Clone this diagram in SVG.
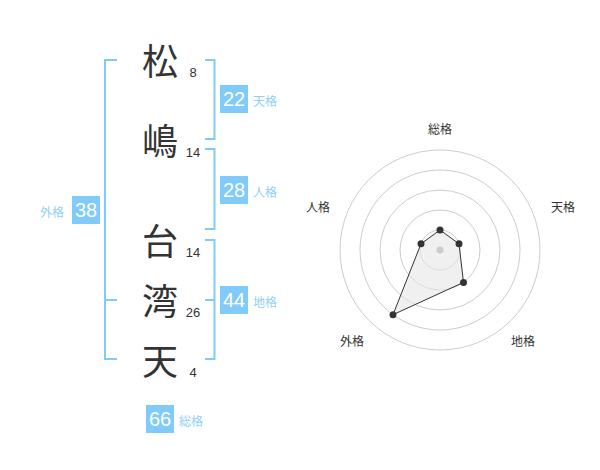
<svg xmlns="http://www.w3.org/2000/svg" width="600" height="470" viewBox="0 0 600 470">
<style>
.ch{font-family:"Noto Sans CJK JP","Noto Sans CJK SC",sans-serif;font-size:36px;fill:#333;text-anchor:middle}
.num{font-family:"Liberation Sans",Arial,sans-serif;font-size:13px;fill:#333;text-anchor:middle}
.br{fill:none;stroke:#80cbfa;stroke-width:2}
.box{fill:#80cbfa}
.bv{font-family:"Liberation Sans",Arial,sans-serif;font-size:20px;fill:#fff;text-anchor:middle}
.bl{font-family:"Noto Sans CJK JP","Noto Sans CJK SC",sans-serif;font-size:12px;fill:#8ed0f6}
.rl{font-family:"Noto Sans CJK JP","Noto Sans CJK SC",sans-serif;font-size:12px;fill:#333;text-anchor:middle}
.ring{fill:none;stroke:#ccc;stroke-width:1}
.dot{fill:#333}
</style>
<rect width="600" height="470" fill="#fff"/>
<g id="chars">
<g id="c1"><text class="ch" x="160" y="75">松</text><text class="num" x="193" y="77">8</text></g>
<g id="c2"><text class="ch" x="160" y="155">嶋</text><text class="num" x="193" y="157">14</text></g>
<g id="c3"><text class="ch" x="160" y="255">台</text><text class="num" x="193" y="257">14</text></g>
<g id="c4"><text class="ch" x="160" y="315">湾</text><text class="num" x="193" y="317">26</text></g>
<g id="c5"><text class="ch" x="160" y="375">天</text><text class="num" x="193" y="377">4</text></g>
</g>
<g id="connectors">
<path class="br" d="M117 60H105V359H117M105 300H117"/>
<path class="br" d="M205 60H214.5V139H205"/>
<path class="br" d="M205 149H214.5V229H205"/>
<path class="br" d="M205 240H214.5V359H205M214.5 300H205"/>
</g>
<g id="tenkaku"><rect class="box" x="220" y="85" width="28" height="28"/><text class="bv" x="234" y="106">22</text><text class="bl" x="253" y="106">天格</text></g>
<g id="jinkaku"><rect class="box" x="220" y="176" width="28" height="28"/><text class="bv" x="234" y="197">28</text><text class="bl" x="253" y="197">人格</text></g>
<g id="gaikaku"><rect class="box" x="72" y="196" width="28" height="28"/><text class="bv" x="86" y="217">38</text><text class="bl" x="40" y="217">外格</text></g>
<g id="chikaku"><rect class="box" x="220" y="286" width="28" height="28"/><text class="bv" x="234" y="307">44</text><text class="bl" x="253" y="307">地格</text></g>
<g id="soukaku"><rect class="box" x="146" y="405" width="28" height="28"/><text class="bv" x="160" y="426">66</text><text class="bl" x="179" y="426">総格</text></g>
<g id="radar">
<circle class="ring" cx="440" cy="250" r="20"/>
<circle class="ring" cx="440" cy="250" r="40"/>
<circle class="ring" cx="440" cy="250" r="60"/>
<circle class="ring" cx="440" cy="250" r="80"/>
<circle class="ring" cx="440" cy="250" r="100"/>
<polygon points="440,230 459,243.8 463.5,282.4 393,314.7 421,243.8" fill="#e6e6e6" fill-opacity="0.6" stroke="#333" stroke-width="1"/>
<circle cx="440" cy="250" r="3.5" fill="#ccc"/>
<circle class="dot" cx="440" cy="230" r="3.5"/>
<circle class="dot" cx="459" cy="243.8" r="3.5"/>
<circle class="dot" cx="463.5" cy="282.4" r="3.5"/>
<circle class="dot" cx="393" cy="314.7" r="3.5"/>
<circle class="dot" cx="421" cy="243.8" r="3.5"/>
<text class="rl" x="440" y="134">総格</text>
<text class="rl" x="563" y="212">天格</text>
<text class="rl" x="523" y="346">地格</text>
<text class="rl" x="352" y="346">外格</text>
<text class="rl" x="318" y="212">人格</text>
</g>
</svg>
